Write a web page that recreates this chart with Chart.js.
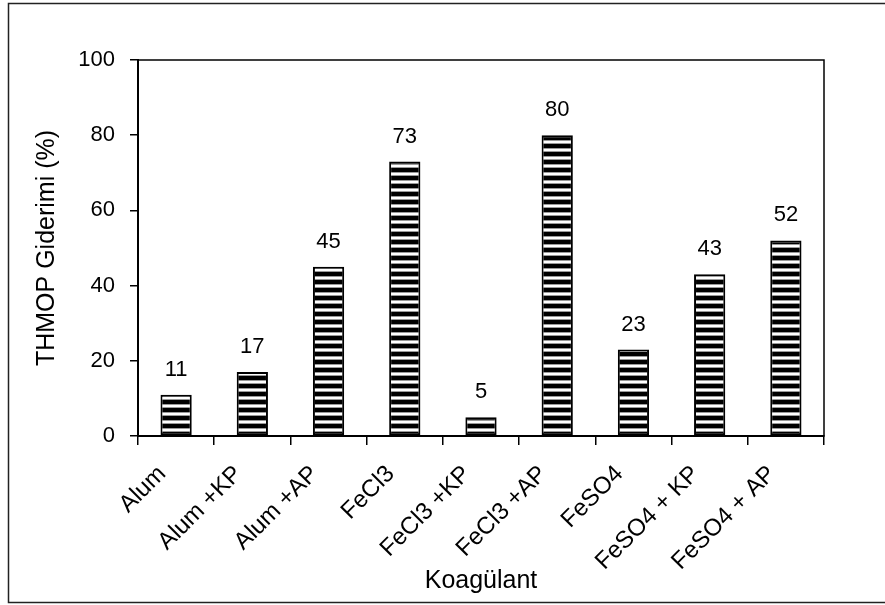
<!DOCTYPE html>
<html>
<head>
<meta charset="utf-8">
<script src="https://cdn.jsdelivr.net/npm/chart.js@4"></script>
<style>
  html, body { margin: 0; padding: 0; background: #fff; }
  #wrap { width: 885px; height: 605px; position: relative; }
</style>
</head>
<body>
<div id="wrap"><canvas id="c" width="885" height="605"></canvas></div>
<script>
// Coagulant types and THMFP removal (%)
const categories = ['Alum', 'Alum +KP', 'Alum +AP', 'FeCl3', 'FeCl3 +KP', 'FeCl3 +AP', 'FeSO4', 'FeSO4 + KP', 'FeSO4 + AP'];
const removal = [11, 17, 45, 73, 5, 80, 23, 43, 52];
const yTicks = [0, 20, 40, 60, 80, 100];

const FONT = '"Liberation Sans", Arial, sans-serif';
const TICK_SIZE = 22;
const XTICK_SIZE = 24;
const TITLE_SIZE = 25;

// Horizontal stripe fill for the bars
function stripePattern() {
  const p = document.createElement('canvas');
  p.width = 8; p.height = 8;
  const g = p.getContext('2d');
  g.fillStyle = '#000'; g.fillRect(0, 0, 8, 8);
  g.fillStyle = '#9a9a9a'; g.fillRect(0, 4, 8, 1); g.fillRect(0, 7, 8, 1);
  g.fillStyle = '#fff'; g.fillRect(0, 5, 8, 2);
  return document.getElementById('c').getContext('2d').createPattern(p, 'repeat');
}

// Outer frame and plot box
const framePlugin = {
  id: 'frame',
  afterDraw(chart) {
    const ctx = chart.ctx, a = chart.chartArea;
    ctx.save();
    ctx.strokeStyle = '#000';
    ctx.lineWidth = 1.5;
    ctx.strokeRect(a.left, a.top, a.right - a.left, a.bottom - a.top);
    ctx.strokeStyle = '#222';
    ctx.strokeRect(8.5, 3.5, 885, 599);
    ctx.restore();
  }
};

// Value printed above each bar
const valueLabels = {
  id: 'valueLabels',
  afterDatasetsDraw(chart) {
    const ctx = chart.ctx;
    const meta = chart.getDatasetMeta(0);
    ctx.save();
    ctx.font = TICK_SIZE + 'px ' + FONT;
    ctx.fillStyle = '#000';
    ctx.textAlign = 'center';
    ctx.textBaseline = 'alphabetic';
    meta.data.forEach((bar, i) => {
      ctx.fillText(String(removal[i]), bar.x, bar.y - 19);
    });
    ctx.restore();
  }
};

new Chart(document.getElementById('c'), {
  type: 'bar',
  data: {
    labels: categories,
    datasets: [{
      data: removal,
      backgroundColor: stripePattern(),
      borderColor: '#000',
      borderWidth: 2,
      borderSkipped: false,
      categoryPercentage: 1,
      barPercentage: 0.41
    }]
  },
  options: {
    responsive: false,
    animation: false,
    devicePixelRatio: 1,
    layout: { padding: { left: 0, right: 61, top: 60, bottom: 0 } },
    plugins: { legend: { display: false }, tooltip: { enabled: false } },
    scales: {
      x: {
        grid: { display: true, drawOnChartArea: false, offset: true, color: '#000', lineWidth: 1.5, tickLength: 9 },
        border: { display: true, color: '#000', width: 2 },
        ticks: { color: '#000', font: { family: FONT, size: XTICK_SIZE }, minRotation: 45, maxRotation: 45, padding: 15, labelOffset: -14, autoSkip: false },
        title: { display: true, text: 'Koagülant', color: '#000', font: { family: FONT, size: TITLE_SIZE }, padding: { top: 0, bottom: 9 } },
        afterFit(s) { s.height = 169; }
      },
      y: {
        min: 0, max: 100,
        afterBuildTicks(s) { s.ticks = yTicks.map(v => ({ value: v })); },
        grid: { display: true, drawOnChartArea: false, color: '#000', lineWidth: 1.5, tickLength: 8 },
        border: { display: true, color: '#000', width: 2 },
        ticks: { color: '#000', font: { family: FONT, size: TICK_SIZE }, padding: 15 },
        title: { display: true, text: 'THMOP Giderimi (%)', color: '#000', font: { family: FONT, size: TITLE_SIZE }, padding: { top: 32, bottom: 0 } },
        afterFit(s) { s.width = 138; }
      }
    }
  },
  plugins: [framePlugin, valueLabels]
});
</script>
</body>
</html>
